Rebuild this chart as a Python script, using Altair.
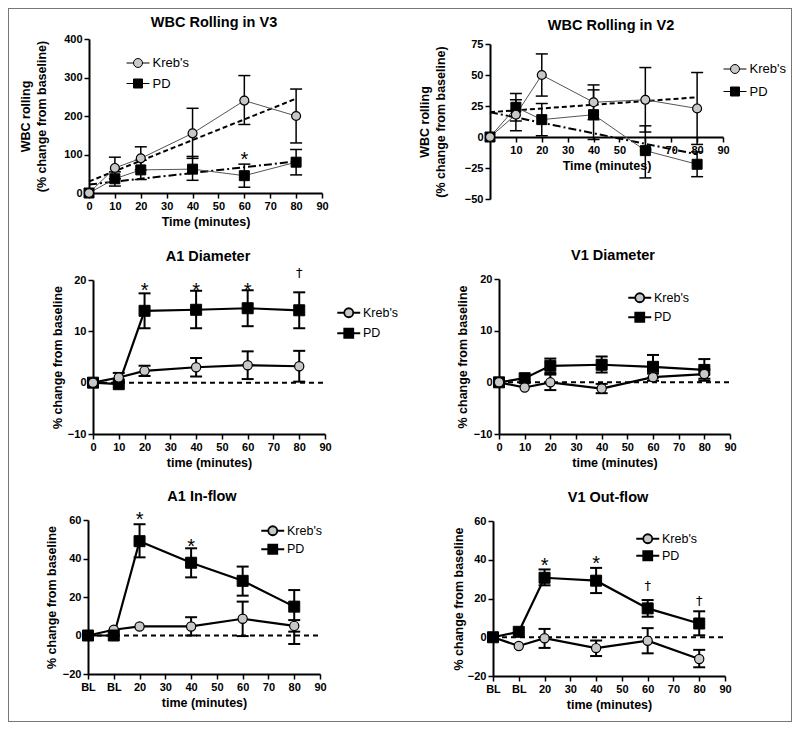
import altair as alt
import pandas as pd

FONT = "Liberation Sans"
W, H = 784, 714
GRAY = "#c8c8c8"

TIME = [0, 10, 20, 40, 60, 80]
FIT_X = [0, 80]
KREBS, PD = "Kreb's", "PD"
X_TICKS = [0, 10, 20, 30, 40, 50, 60, 70, 80, 90]
X_TICKS_V2 = [10, 20, 30, 40, 50, 60, 70, 80, 90]

# ---- WBC Rolling in V3
v3_kreb = [0, 65, 90, 155, 240, 200]
v3_kreb_hi = [None, 93, 120, 220, 305, 270]
v3_kreb_lo = [None, 37, 60, 90, 178, 130]
v3_pd = [0, 37, 60, 62, 45, 80]
v3_pd_hi = [None, 55, 85, 95, 75, 113]
v3_pd_lo = [None, 18, 35, 33, 15, 47]
v3_fit_kreb = [30, 245]
v3_fit_pd = [22, 82]
v3_stars = [(60, 101)]
v3_daggers = []
v3_yticks = [0, 100, 200, 300, 400]

# ---- WBC Rolling in V2
v2_kreb = [0, 18, 50, 28, 30, 23]
v2_kreb_hi = [None, 30, 67, 42, 56, 52]
v2_kreb_lo = [None, 5, 33, 14, 4, -6]
v2_pd = [0, 24, 14, 18, -11, -22]
v2_pd_hi = [None, 35, 27, 38, 9, -12]
v2_pd_lo = [None, 13, 1, -2, -33, -32]
v2_fit_kreb = [20, 32]
v2_fit_pd = [20, -14]
v2_yticks = [-50, -25, 0, 25, 50, 75]

# ---- A1 Diameter
a1d_kreb = [0, 1.0, 2.3, 3.0, 3.4, 3.2]
a1d_kreb_hi = [None, 1.9, 3.3, 4.8, 6.1, 6.2]
a1d_kreb_lo = [None, 0.1, 1.3, 1.2, 0.7, 0.2]
a1d_pd = [0, -0.3, 14.0, 14.2, 14.5, 14.1]
a1d_pd_hi = [None, None, 17.4, 17.9, 18.0, 17.6]
a1d_pd_lo = [None, None, 10.6, 10.6, 11.0, 10.6]
a1d_stars = [(20, 19.0), (40, 19.0), (60, 19.0)]
a1d_daggers = [(80, 21.4)]

# ---- V1 Diameter
v1d_kreb = [0, -1.0, 0.0, -1.2, 1.0, 1.6]
v1d_kreb_hi = [None, None, 1.5, -0.3, 1.7, 2.5]
v1d_kreb_lo = [None, None, -1.5, -2.1, 0.3, 0.7]
v1d_pd = [0, 0.8, 3.2, 3.4, 3.0, 2.4]
v1d_pd_hi = [None, None, 4.6, 5.0, 5.3, 4.5]
v1d_pd_lo = [None, None, 1.8, 1.9, 0.9, 0.3]
diam_yticks = [-10, 0, 10, 20]

# ---- A1 In-flow
a1f_kreb = [0, 3.0, 4.7, 4.7, 8.7, 5.0]
a1f_kreb_hi = [None, None, None, 9.5, 17.6, 8.0]
a1f_kreb_lo = [None, None, None, 0.0, -0.3, 2.0]
a1f_pd = [0, 0, 49.0, 37.8, 28.4, 15.0]
a1f_pd_hi = [None, None, 57.8, 45.3, 35.8, 23.6]
a1f_pd_lo = [None, None, 40.6, 30.2, 20.7, -4.4]
a1f_stars = [(20, 63), (40, 49)]

# ---- V1 Out-flow
v1f_kreb = [0, -4.5, -0.5, -5.6, -1.8, -11.2]
v1f_kreb_hi = [None, None, 4.3, -1.7, 4.7, -6.5]
v1f_kreb_lo = [None, None, -5.5, -9.7, -8.3, -15.5]
v1f_pd = [0, 2.8, 30.7, 29.2, 14.9, 7.1]
v1f_pd_hi = [None, None, 35.0, 35.8, 19.2, 13.4]
v1f_pd_lo = [None, None, 26.8, 22.8, 10.6, 1.0]
v1f_stars = [(20, 39.7), (40, 40.8)]
v1f_daggers = [(60, 26.3), (80, 18.6)]
flow_yticks = [-20, 0, 20, 40, 60]

CIRCLE_PATH = "M-2.55,0H-1M1,0H2.55M1,0A1,1,0,1,1,-1,0A1,1,0,1,1,1,0Z"
SQUARE_PATH = "M-2.55,0H-1M1,0H2.55M-1,-1H1V1H-1Z"

WBC_YTITLE = ["WBC rolling", "(% change from baseline)"]
PCT_YTITLE = "% change from baseline"


def rows(xs, ys, name):
    return [{"series": name, "x": x, "y": y} for x, y in zip(xs, ys)]


def err_rows(xs, lo, hi, name):
    return [{"series": name, "x": x, "lo": l, "hi": h}
            for x, l, h in zip(xs, lo, hi) if l is not None and h is not None]


PANELS = [
    dict(title="WBC Rolling in V3", tpos=(206, 15), kreb=v3_kreb, kreb_hi=v3_kreb_hi, kreb_lo=v3_kreb_lo,
         pd=v3_pd, pd_hi=v3_pd_hi, pd_lo=v3_pd_lo, fit=(v3_fit_kreb, v3_fit_pd), zero=False,
         stars=v3_stars, daggers=v3_daggers, xr=[81, 314], ydom=[0, 400], yr=[185, 31], xaxis_y=185,
         xticks=X_TICKS, yticks=v3_yticks, xtitle="Time (minutes)", ytitle=WBC_YTITLE, ytp=15, bl=False,
         thin=True, leg=(123.5, 48.5, 13, 6.5), circles_top=True),
    dict(title="WBC Rolling in V2", tpos=(603, 18), kreb=v2_kreb, kreb_hi=v2_kreb_hi, kreb_lo=v2_kreb_lo,
         pd=v2_pd, pd_hi=v2_pd_hi, pd_lo=v2_pd_lo, fit=(v2_fit_kreb, v2_fit_pd), zero=False,
         stars=[], daggers=[], xr=[482, 715], ydom=[-50, 75], yr=[191, 36], xaxis_y=129,
         xticks=X_TICKS_V2, yticks=v2_yticks, xtitle="Time (minutes)", ytitle=WBC_YTITLE, ytp=17, bl=False,
         thin=True, leg=(720.5, 54.5, 13, 8.5), circles_top=True),
    dict(title="A1 Diameter", tpos=(200, 249), kreb=a1d_kreb, kreb_hi=a1d_kreb_hi, kreb_lo=a1d_kreb_lo,
         pd=a1d_pd, pd_hi=a1d_pd_hi, pd_lo=a1d_pd_lo, fit=None, zero=True,
         stars=a1d_stars, daggers=a1d_daggers, xr=[85, 317], ydom=[-10, 20], yr=[426, 272], xaxis_y=426,
         xticks=X_TICKS, yticks=diam_yticks, xtitle="time (minutes)", ytitle=PCT_YTITLE, ytp=3, bl=False,
         thin=False, leg=(334.5, 298.5, 12.5, 3.5), circles_top=True),
    dict(title="V1 Diameter", tpos=(605, 248), kreb=v1d_kreb, kreb_hi=v1d_kreb_hi, kreb_lo=v1d_kreb_lo,
         pd=v1d_pd, pd_hi=v1d_pd_hi, pd_lo=v1d_pd_lo, fit=None, zero=True,
         stars=[], daggers=[], xr=[491, 722], ydom=[-10, 20], yr=[426, 271], xaxis_y=426,
         xticks=X_TICKS, yticks=diam_yticks, xtitle="time (minutes)", ytitle=PCT_YTITLE, ytp=4, bl=False,
         thin=False, leg=(625.5, 283.5, 12.5, 2.5), circles_top=True),
    dict(title="A1 In-flow", tpos=(194, 489), kreb=a1f_kreb, kreb_hi=a1f_kreb_hi, kreb_lo=a1f_kreb_lo,
         pd=a1f_pd, pd_hi=a1f_pd_hi, pd_lo=a1f_pd_lo, fit=None, zero=True,
         stars=a1f_stars, daggers=[], xr=[80, 312], ydom=[-20, 60], yr=[666, 512], xaxis_y=666,
         xticks=X_TICKS, yticks=flow_yticks, xtitle="time (minutes)", ytitle=PCT_YTITLE, ytp=4, bl=True,
         thin=False, leg=(258.5, 516.5, 12.5, 1.5), circles_top=False),
    dict(title="V1 Out-flow", tpos=(600, 490), kreb=v1f_kreb, kreb_hi=v1f_kreb_hi, kreb_lo=v1f_kreb_lo,
         pd=v1f_pd, pd_hi=v1f_pd_hi, pd_lo=v1f_pd_lo, fit=None, zero=True,
         stars=v1f_stars, daggers=v1f_daggers, xr=[485, 717], ydom=[-20, 60], yr=[668, 513], xaxis_y=668,
         xticks=X_TICKS, yticks=flow_yticks, xtitle="time (minutes)", ytitle=PCT_YTITLE, ytp=2, bl=True,
         thin=False, leg=(633.5, 524.5, 12.5, 0.0), circles_top=False),
]


def panel(p):
    xs = alt.Scale(domain=[0, 90], range=p["xr"], nice=False, zero=False)
    ys = alt.Scale(domain=p["ydom"], range=p["yr"], nice=False, zero=False)
    xax = dict(orient="bottom", offset=p["xaxis_y"] - H, values=p["xticks"], title=p["xtitle"],
               grid=False, labelFlush=False, labelOverlap=False)
    if p["bl"]:
        xax["labelExpr"] = "datum.value < 15 ? 'BL' : datum.label"
    xaxis = alt.Axis(**xax)
    yaxis = alt.Axis(orient="left", offset=-p["xr"][0], values=p["yticks"], title=p["ytitle"],
                     titlePadding=p["ytp"], grid=False, labelFlush=False, labelOverlap=False)

    def X():
        return alt.X("x:Q", scale=xs, axis=xaxis)

    def Y(f="y"):
        return alt.Y(f"{f}:Q", scale=ys, axis=yaxis)

    main = pd.DataFrame(rows(TIME, p["kreb"], KREBS) + rows(TIME, p["pd"], PD))
    err = pd.DataFrame(err_rows(TIME, p["kreb_lo"], p["kreb_hi"], KREBS) +
                       err_rows(TIME, p["pd_lo"], p["pd_hi"], PD))

    thin = p["thin"]
    ebw = 1.5 if thin else 2
    line_color = "#555555" if thin else "black"
    line_w = 1 if thin else 2.2
    csize, ssize = (80, 100) if thin else (85, 121)
    lsw = 1 if thin else 1.8

    layers = []
    if p["zero"]:
        zdf = pd.DataFrame({"x": [0], "x2": [90], "y": [0]})
        layers.append(alt.Chart(zdf).mark_rule(strokeDash=[5, 4], strokeWidth=2, color="black")
                      .encode(x=X(), x2=alt.X2("x2:Q"), y=Y()))
    if p["fit"]:
        fk = pd.DataFrame({"x": FIT_X, "y": p["fit"][0]})
        fp = pd.DataFrame({"x": FIT_X, "y": p["fit"][1]})
        layers.append(alt.Chart(fk).mark_line(strokeDash=[5, 3], strokeWidth=2, color="black")
                      .encode(x=X(), y=Y()))
        layers.append(alt.Chart(fp).mark_line(strokeDash=[8, 3, 2, 3], strokeWidth=2, color="black")
                      .encode(x=X(), y=Y()))
    layers.append(alt.Chart(err).mark_rule(strokeWidth=ebw, color="black")
                  .encode(x=X(), y=Y("lo"), y2=alt.Y2("hi:Q")))
    for f in ("lo", "hi"):
        layers.append(alt.Chart(err).mark_tick(orient="horizontal", size=12, thickness=ebw,
                                               color="black", opacity=1)
                      .encode(x=X(), y=Y(f)))
    layers.append(alt.Chart(main).mark_line(color=line_color, strokeWidth=line_w)
                  .encode(x=X(), y=Y(), detail="series:N"))

    circ = alt.Chart(main[main.series == KREBS]).mark_point(
        shape="circle", fill=GRAY, stroke="black", strokeWidth=1.2, size=csize, opacity=1, filled=False
    ).encode(x=X(), y=Y())
    sq = alt.Chart(main[main.series == PD]).mark_point(
        shape="square", fill="black", stroke="black", strokeWidth=1, size=ssize, opacity=1
    ).encode(x=X(), y=Y())
    layers += [sq, circ] if p["circles_top"] else [circ, sq]

    lx, ly, lfs, lrp = p["leg"]
    leg = alt.Legend(orient="none", legendX=lx, legendY=ly, title=None, symbolSize=81,
                     symbolStrokeWidth=lsw, symbolOpacity=1, symbolOffset=0, labelOffset=8,
                     labelFont=FONT, labelFontSize=lfs, labelColor="black", rowPadding=lrp, padding=0)
    dom = [KREBS, PD]
    layers.append(alt.Chart(main).mark_point(opacity=0, strokeWidth=lsw).encode(
        x=X(), y=Y(),
        fill=alt.Fill("series:N", scale=alt.Scale(domain=dom, range=[GRAY, "black"]), legend=leg),
        stroke=alt.Stroke("series:N", scale=alt.Scale(domain=dom, range=["black", "black"]), legend=leg),
        shape=alt.Shape("series:N", scale=alt.Scale(domain=dom, range=[CIRCLE_PATH, SQUARE_PATH]),
                        legend=leg),
    ))

    if p["stars"]:
        sdf = pd.DataFrame([{"x": x, "y": y, "t": "*"} for x, y in p["stars"]])
        layers.append(alt.Chart(sdf).mark_text(font=FONT, fontSize=20, baseline="alphabetic",
                                               align="center", dy=11.5, color="black")
                      .encode(x=X(), y=Y(), text="t:N"))
    if p["daggers"]:
        ddf = pd.DataFrame([{"x": x, "y": y, "t": "\u2020"} for x, y in p["daggers"]])
        layers.append(alt.Chart(ddf).mark_text(font="DejaVu Sans", fontSize=13,
                                               baseline="alphabetic", align="center", dy=4, color="black")
                      .encode(x=X(), y=Y(), text="t:N"))

    tdf = pd.DataFrame({"t": [p["title"]]})
    layers.append(alt.Chart(tdf).mark_text(font=FONT, fontSize=14.5, fontWeight="bold",
                                           align="center", baseline="middle", color="black")
                  .encode(x=alt.value(p["tpos"][0]), y=alt.value(p["tpos"][1]), text="t:N"))
    return alt.layer(*layers)


chart = (
    alt.layer(*[panel(p) for p in PANELS])
    .resolve_scale(x="independent", y="independent", fill="independent", shape="independent",
                   stroke="independent")
    .resolve_axis(x="independent", y="independent")
    .resolve_legend(fill="independent", shape="independent", stroke="independent")
    .properties(width=W, height=H, padding=0, autosize=alt.AutoSizeParams(type="none"),
                background="white")
    .configure_view(stroke="#777777", strokeWidth=2)
    .configure_axis(labelFont=FONT, labelFontSize=11, labelFontWeight="bold", labelColor="black",
                    titleFont=FONT, titleFontSize=12.5, titleFontWeight="bold", titleColor="black",
                    domainColor="black", domainWidth=2, tickColor="black", tickWidth=1.5, tickSize=5,
                    labelPadding=2, titleLineHeight=16)
)

chart.save("out.html", embed_options={"renderer": "svg", "actions": False})
